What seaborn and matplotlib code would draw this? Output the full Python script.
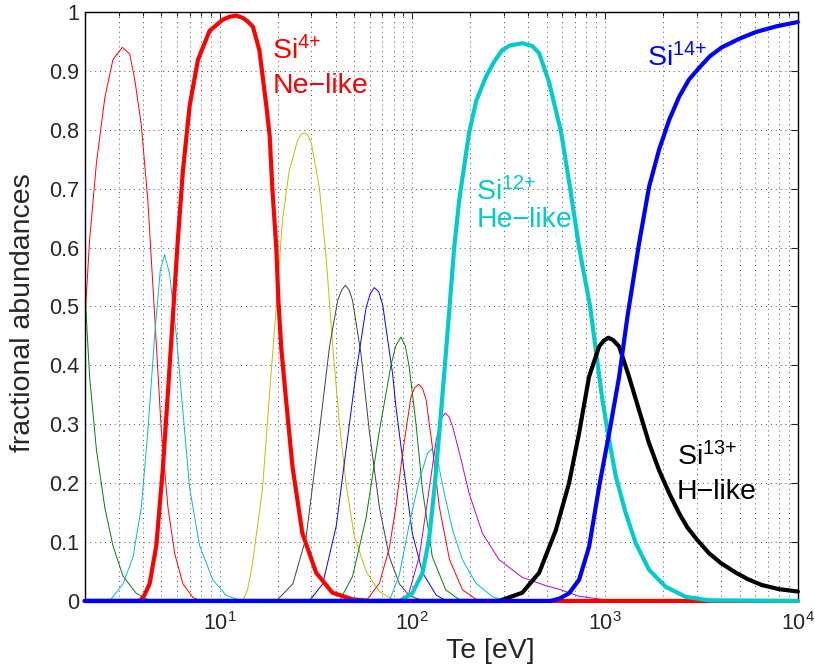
import matplotlib
matplotlib.use("Agg")
import matplotlib.pyplot as plt
import matplotlib.ticker as mticker
import seaborn as sns

# Si ionisation balance, fractional abundance of each charge state vs Te [eV]
# values

te_si1 = [2.0, 2.12, 2.30, 2.54, 2.80, 3.16, 3.70, 4.34, 5.0, 1e4]
fa_si1 = [0.53, 0.38, 0.256, 0.159, 0.094, 0.042, 0.013, 0.001, 0, 0]

te_si2 = [2.0, 2.12, 2.30, 2.54, 2.80, 3.13, 3.42, 3.63, 3.93, 4.25, 4.61, 4.99,
          5.40, 5.85, 6.46, 7.28, 8.0, 1e4]
fa_si2 = [0.474, 0.614, 0.744, 0.854, 0.919, 0.94, 0.929, 0.886, 0.808, 0.679, 0.484, 0.289,
          0.159, 0.081, 0.029, 0.006, 0, 0]

te_si3 = [2.0, 2.69, 3.16, 3.56, 3.93, 4.25, 4.61, 4.93, 5.19, 5.51, 5.97, 6.46,
          7.0, 7.88, 9.23, 10.8, 12.7, 1e4]
fa_si3 = [0, 0, 0.029, 0.075, 0.159, 0.289, 0.451, 0.562, 0.588, 0.555, 0.451, 0.321,
          0.192, 0.094, 0.036, 0.01, 0.001, 0]

te_si4 = [2.0, 3.85, 4.05, 4.34, 4.70, 5.08, 5.40, 5.73, 6.08, 6.46, 7.0, 7.73, 8.88,
          10.4, 11.3, 12.2, 13.2, 14.0, 14.9, 16.1, 17.5, 18.2, 18.8, 19.7, 20.2, 20.9,
          22.3, 23.9, 26.9, 31.7, 38.5, 48.8, 60, 1e4]
fa_si4 = [0, 0, 0.008, 0.029, 0.094, 0.224, 0.354, 0.484, 0.614, 0.731, 0.841, 0.919, 0.968,
          0.987, 0.992, 0.994, 0.990, 0.984, 0.975, 0.935, 0.84, 0.79, 0.70, 0.60, 0.51, 0.43,
          0.33, 0.228, 0.115, 0.048, 0.014, 0.003, 0, 0]

te_si5 = [2.0, 13.2, 14.0, 14.8, 16.7, 18.2, 19.7, 21.2, 23.0, 25.4, 26.5, 27.6, 28.8,
          30.0, 33.0, 35.8, 38.5, 41.9, 45.5, 50.0, 57.8, 67.5, 78.7, 90, 1e4]
fa_si5 = [0, 0, 0.02, 0.062, 0.19, 0.354, 0.5, 0.646, 0.731, 0.782, 0.792, 0.795, 0.79,
          0.776, 0.70, 0.58, 0.44, 0.30, 0.195, 0.11, 0.049, 0.016, 0.003, 0, 0]

te_si6 = [2.0, 19.7, 24.0, 28.1, 33.0, 37.2, 41.0, 43.0, 45.0, 47.0, 49.0, 54.2, 59.8,
          67.5, 76.0, 85.7, 96.0, 104, 115, 1e4]
fa_si6 = [0, 0, 0.029, 0.107, 0.289, 0.432, 0.51, 0.528, 0.536, 0.528, 0.51, 0.419, 0.289,
          0.159, 0.075, 0.029, 0.01, 0.005, 0, 0]

te_si7 = [2.0, 29.2, 34.3, 40.3, 45.3, 51.0, 57.5, 60.5, 63.5, 67.0, 70.2, 79.0, 82.2,
          91.0, 100, 113, 133, 150, 1e4]
fa_si7 = [0, 0, 0.029, 0.127, 0.256, 0.386, 0.497, 0.522, 0.532, 0.525, 0.503, 0.386, 0.33,
          0.217, 0.115, 0.048, 0.01, 0, 0]

te_si8 = [2.0, 41.9, 49.0, 57.5, 67.5, 77.5, 82.0, 87.3, 92.0, 96.4, 104.4, 113, 127,
          149, 174, 197, 1e4]
fa_si8 = [0, 0, 0.042, 0.14, 0.289, 0.40, 0.433, 0.448, 0.433, 0.397, 0.302, 0.188, 0.075,
          0.019, 0.003, 0, 0]

te_si9 = [2.0, 57.5, 67.5, 76.0, 82.2, 89.0, 98.4, 103, 108, 113, 118, 127, 138, 156,
          182, 214, 250, 1e4]
fa_si9 = [0, 0, 0.03, 0.09, 0.16, 0.25, 0.347, 0.362, 0.368, 0.361, 0.341, 0.262, 0.16, 0.07,
          0.019, 0.003, 0, 0]

te_si10 = [2.0, 76.0, 85.7, 96.4, 108.6, 120, 126, 135, 146.5, 162, 182, 214,
           261, 306, 1e4]
fa_si10 = [0, 0, 0.045, 0.13, 0.205, 0.251, 0.258, 0.24, 0.183, 0.12, 0.07, 0.03,
           0.007, 0, 0]

te_si11 = [2.0, 85.7, 96.0, 108.6, 120, 133, 141, 148, 155, 162, 179, 197, 231, 282,
           372, 493, 576, 733, 1000, 1500, 1e4]
fa_si11 = [0, 0, 0.013, 0.075, 0.171, 0.273, 0.309, 0.319, 0.313, 0.296, 0.24, 0.183, 0.115,
           0.07, 0.04, 0.026, 0.02, 0.008, 0.002, 0, 0]

te_si12 = [2.0, 86, 100, 113, 122, 130, 138, 146.5, 156, 165, 175, 197, 215, 241, 265,
           292, 320, 372, 420, 455, 513, 592, 659, 733, 836, 895, 969, 1050, 1137,
           1280, 1442, 1690, 2060, 2620, 3460, 1e4]
fa_si12 = [0, 0, 0.013, 0.048, 0.104, 0.188, 0.285, 0.387, 0.499, 0.601, 0.68, 0.795,
           0.85, 0.89, 0.915, 0.935, 0.943, 0.947, 0.942, 0.93, 0.88, 0.795, 0.70, 0.60,
           0.50, 0.426, 0.341, 0.273, 0.211, 0.149, 0.098, 0.053, 0.024, 0.007, 0.001, 0]

te_si13 = [2.0, 282, 372, 455, 555, 650, 733, 826, 931, 985, 1040, 1100, 1183, 1330,
           1500, 1690, 1905, 2150, 2420, 2670, 3000, 3460, 4000, 4770, 5500, 6510,
           8000, 1e4]
fa_si13 = [0, 0, 0.014, 0.048, 0.12, 0.2, 0.285, 0.381, 0.432, 0.442, 0.447, 0.443,
           0.432, 0.381, 0.324, 0.268, 0.222, 0.183, 0.149, 0.125, 0.104, 0.081, 0.064,
           0.048, 0.037, 0.027, 0.02, 0.016]

te_si14 = [2.0, 520, 580, 650, 733, 826, 931, 1050, 1183, 1306, 1500, 1690, 1905,
           2150, 2420, 2720, 3070, 3500, 4030, 5000, 6050, 7800, 1e4]
fa_si14 = [0, 0, 0.004, 0.013, 0.036, 0.092, 0.194, 0.285, 0.381, 0.483, 0.607,
           0.703, 0.766, 0.817, 0.856, 0.885, 0.905, 0.925, 0.94, 0.955, 0.966,
           0.976, 0.983]

# thin curves, matlab colour order
thin_curves = [
    (te_si1, fa_si1, "#008000"),
    (te_si2, fa_si2, "#FF0000"),
    (te_si3, fa_si3, "#00BFBF"),
    (te_si5, fa_si5, "#BFBF00"),
    (te_si6, fa_si6, "#404040"),
    (te_si7, fa_si7, "#0000FF"),
    (te_si8, fa_si8, "#008000"),
    (te_si9, fa_si9, "#FF0000"),
    (te_si10, fa_si10, "#00BFBF"),
    (te_si11, fa_si11, "#BF00BF"),
]

# highlighted ions
thick_curves = [
    (te_si4, fa_si4, "#FF0000"),
    (te_si12, fa_si12, "#00CCCC"),
    (te_si13, fa_si13, "#000000"),
    (te_si14, fa_si14, "#0000FF"),
]

sns.set_style("white")
plt.rcParams["font.family"] = ["Liberation Sans", "DejaVu Sans"]
plt.rcParams["mathtext.fontset"] = "custom"
plt.rcParams["mathtext.rm"] = "Liberation Sans"
plt.rcParams["mathtext.it"] = "Liberation Sans:italic"
plt.rcParams["mathtext.bf"] = "Liberation Sans:bold"

fig = plt.figure(figsize=(8.15, 6.67), dpi=100)
ax = fig.add_axes([0.104, 0.099, 0.875, 0.883])
ax.set_xscale("log")

for te, fa, col in thin_curves:
    sns.lineplot(x=te, y=fa, color=col, linewidth=0.7, ax=ax)

for te, fa, col in thick_curves:
    sns.lineplot(x=te, y=fa, color=col, linewidth=3.0, ax=ax, clip_on=False, zorder=3)

ax.set_xlim(2, 1e4)
ax.set_ylim(0, 1)

ax.xaxis.set_major_locator(mticker.LogLocator(base=10, numticks=10))
ax.xaxis.set_minor_locator(mticker.LogLocator(base=10, subs=range(2, 10), numticks=20))
ax.xaxis.set_minor_formatter(mticker.NullFormatter())
ax.yaxis.set_major_locator(mticker.MultipleLocator(0.1))
ax.yaxis.set_major_formatter(mticker.FuncFormatter(lambda v, p: f"{v:g}"))

ax.grid(True, which="both", axis="x", color="0.3", linestyle=(0, (1, 4)), linewidth=0.7)
ax.grid(True, which="major", axis="y", color="0.3", linestyle=(0, (1, 4)), linewidth=0.7)

ax.tick_params(which="both", direction="in", top=True, right=True, width=0.8)
ax.tick_params(which="major", length=5, labelsize=15.5)
ax.tick_params(which="minor", length=3)
ax.tick_params(axis="x", which="major", pad=8)
ax.tick_params(axis="y", which="major", pad=4)

for sp in ax.spines.values():
    sp.set_linewidth(1.0)
    sp.set_color("black")

ax.set_xlabel("Te [eV]", fontsize=20.5, va="baseline")
ax.xaxis.set_label_coords(0.568, -0.097)
ax.set_ylabel("fractional abundances", fontsize=20.5, va="center")
ax.yaxis.set_label_coords(-0.087, 0.49)

# ion labels
lab = dict(fontsize=20.5, va="baseline", ha="left")
ax.text(18.8, 0.920, "Si$^{4{+}}$", color="#FF0000", **lab)
ax.text(18.8, 0.8625, "Ne\u2212like", color="#FF0000", **lab)
ax.text(215, 0.681, "Si$^{12{+}}$", color="#00CCCC", **lab)
ax.text(215, 0.635, "He\u2212like", color="#00CCCC", **lab)
ax.text(1650, 0.907, "Si$^{14{+}}$", color="#0000FF", **lab)
ax.text(2360, 0.231, "Si$^{13{+}}$", color="#000000", **lab)
ax.text(2360, 0.173, "H\u2212like", color="#000000", **lab)

fig.savefig("out.png", dpi=100)
